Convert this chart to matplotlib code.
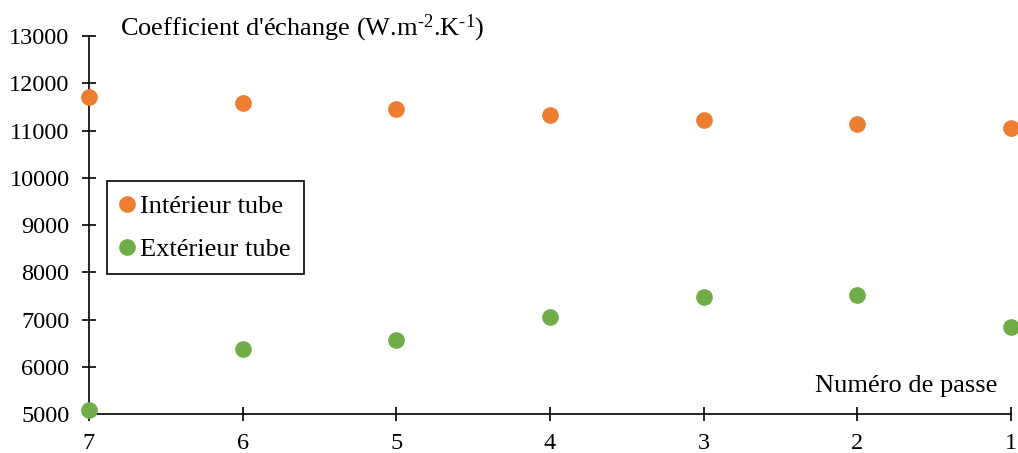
import numpy as np
import matplotlib
matplotlib.use("Agg")
import matplotlib.pyplot as plt

plt.rcParams.update({"font.family": "Liberation Serif", "font.size": 18,
                     "mathtext.fontset": "custom",
                     "mathtext.rm": "Liberation Serif",
                     "mathtext.it": "Liberation Serif:italic"})

ORANGE, GREEN = "#ED7D31", "#70AD47"

passes = [7, 6, 5, 4, 3, 2, 1]
interieur = [11710, 11580, 11455, 11330, 11220, 11135, 11055]
exterieur = [5085, 6375, 6560, 7055, 7485, 7510, 6835]

fig = plt.figure(figsize=(10.18, 4.53), dpi=100)
ax = fig.add_axes([0.0874, 0.086, 0.9056, 0.8345])

ax.plot(passes, interieur, "o", color=ORANGE, ms=11, clip_on=False,
        label="Intérieur tube", zorder=3)
ax.plot(passes, exterieur, "o", color=GREEN, ms=11, clip_on=False,
        label="Extérieur tube", zorder=3)

ax.set_xlim(7, 1)
ax.set_ylim(5000, 13000)
ax.set_xticks(passes)
ax.set_yticks(np.arange(5000, 13001, 1000))
ax.spines[["top", "right"]].set_visible(False)
for s in ("left", "bottom"):
    ax.spines[s].set_linewidth(1.2)
ax.tick_params(direction="inout", length=10, width=1.2, labelsize=17.5)
ax.tick_params(axis="x", pad=9)
ax.tick_params(axis="y", pad=9)

ax.text(0.034, 1.02, r"Coefficient d'échange (W.m$^{\text{-2}}$.K$^{\text{-1}}$)",
        transform=ax.transAxes, ha="left", va="center", fontsize=19)
ax.text(0.985, 0.075, "Numéro de passe", transform=ax.transAxes,
        ha="right", va="center", fontsize=19)

leg = ax.legend(loc="upper left", bbox_to_anchor=(0.0195, 0.616),
                borderaxespad=0, fancybox=False, edgecolor="black",
                framealpha=1, handlelength=0.5, handletextpad=0.25,
                borderpad=0.5, labelspacing=0.75, fontsize=19)
leg.get_frame().set_linewidth(1.2)

fig.savefig("out.png", dpi=100)
